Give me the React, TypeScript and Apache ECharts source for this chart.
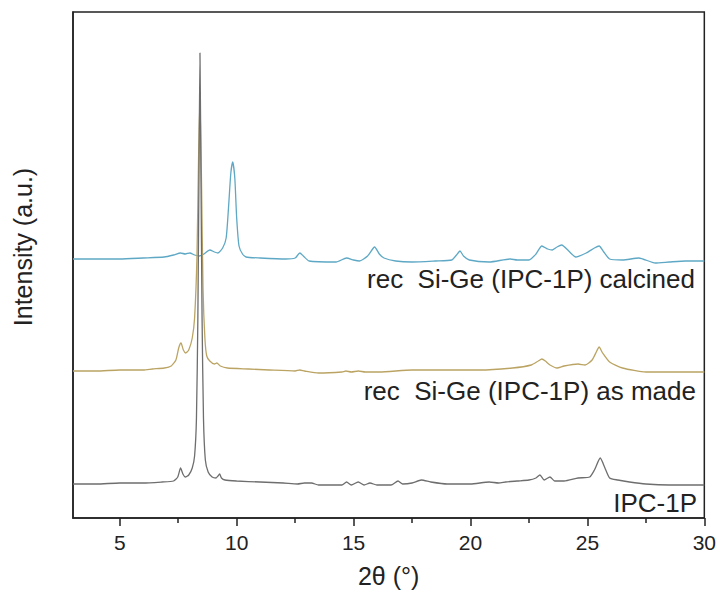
import React, { useEffect, useRef } from "react";
import * as echarts from "echarts";

const xTicks = [5, 10, 15, 20, 25, 30];
const xMinorTicks = [7.5, 12.5, 17.5, 22.5, 27.5];

const seriesNames = ["IPC-1P", "rec  Si-Ge (IPC-1P) as made", "rec  Si-Ge (IPC-1P) calcined"];

const ipc1p: [number, number][] = [
  [3, 34], [4, 34], [5, 35], [6, 35], [6.8, 36], [7.3, 37], [7.48, 41], [7.6, 50], [7.7, 44], [7.8, 41],
  [7.95, 43], [8.1, 50], [8.2, 62], [8.28, 100], [8.34, 200], [8.39, 350], [8.43, 465], [8.47, 350],
  [8.52, 200], [8.58, 100], [8.66, 58], [8.78, 46], [8.95, 41], [9.12, 40], [9.2, 42], [9.27, 44],
  [9.35, 40], [9.5, 38], [10, 37], [11, 36], [12, 35], [12.6, 34], [12.9, 35], [13.2, 35], [13.5, 33],
  [14, 33], [14.5, 33], [14.7, 36], [14.9, 33], [15.2, 36], [15.45, 33], [15.7, 35], [16, 33],
  [16.6, 33], [16.9, 37], [17.1, 34], [17.5, 35], [17.9, 38], [18.3, 36], [19, 34], [20, 34],
  [20.8, 36], [21.2, 35], [21.5, 36], [22, 37], [22.5, 38], [22.8, 40], [22.97, 43], [23.15, 38],
  [23.4, 41], [23.6, 37], [24, 37], [24.6, 40], [25.1, 41], [25.3, 48], [25.55, 60], [25.75, 50],
  [25.95, 40], [26.3, 38], [26.8, 36], [27.5, 34], [28.5, 33], [30, 33],
];

const asMade: [number, number][] = [
  [3, 147], [4, 147], [5, 148], [6, 148], [6.4, 149], [6.9, 150], [7.2, 152], [7.4, 158], [7.52, 170],
  [7.62, 175], [7.72, 168], [7.82, 165], [7.95, 168], [8.1, 180], [8.2, 200], [8.3, 260], [8.37, 360],
  [8.43, 420], [8.5, 330], [8.56, 230], [8.64, 180], [8.72, 162], [8.85, 157], [9.05, 154], [9.15, 155],
  [9.3, 152], [9.6, 150], [10.5, 149], [11.4, 148], [12.5, 147], [12.7, 148], [12.9, 147], [13.5, 145],
  [14.5, 146], [14.67, 147], [14.9, 146], [15.2, 147], [15.5, 146], [15.7, 146], [16.1, 146],
  [17.5, 148], [19, 148], [20.4, 148], [21.8, 150], [22.6, 153], [22.9, 157], [23.05, 159],
  [23.2, 157], [23.4, 153], [23.7, 150], [24, 152], [24.6, 154], [24.9, 153], [25.2, 158], [25.4, 167],
  [25.5, 171], [25.65, 165], [25.95, 156], [26.5, 150], [27.5, 146], [28.5, 146], [30, 146],
];

const calcined: [number, number][] = [
  [3, 259], [4, 259], [5, 259], [6, 260], [6.9, 261], [7.3, 263], [7.6, 265], [7.8, 264], [8.0, 265],
  [8.2, 263], [8.4, 262], [8.6, 264], [8.85, 268], [9.05, 266], [9.2, 265], [9.4, 270], [9.55, 280],
  [9.65, 310], [9.75, 345], [9.83, 356], [9.92, 340], [10.0, 300], [10.1, 272], [10.25, 264],
  [10.4, 261], [11, 260], [12.1, 259], [12.5, 260], [12.7, 265], [12.85, 262], [13.1, 257],
  [14.25, 256], [14.7, 260], [15.0, 258], [15.25, 257], [15.6, 262], [15.9, 271], [16.1, 264],
  [16.3, 260], [16.8, 257], [17.5, 256], [18.5, 257], [19.2, 258], [19.4, 263], [19.55, 267],
  [19.7, 262], [19.95, 258], [20.8, 256], [21.7, 259], [22, 258], [22.5, 258], [22.8, 264],
  [23.05, 272], [23.3, 269], [23.5, 268], [23.7, 271], [23.9, 273], [24.2, 267], [24.5, 261],
  [24.95, 265], [25.3, 270], [25.5, 272], [25.7, 266], [25.95, 259], [26.5, 258], [27.2, 260],
  [27.9, 255], [28.5, 256], [29.2, 257], [30, 257],
];

const colors = ["#6e6e6e", "#bba463", "#5ea8c5"];

export default function App() {
  const ref = useRef<HTMLDivElement>(null);
  useEffect(() => {
    if (!ref.current) return;
    const chart = echarts.init(ref.current, undefined, { renderer: "svg" });
    const font = "'Liberation Sans', Arial, sans-serif";
    const mkLine = (name: string, data: [number, number][], color: string) => ({
      type: "line",
      name,
      data,
      showSymbol: false,
      smooth: 0.2,
      lineStyle: { color, width: 1.3 },
      itemStyle: { color },
      z: 2,
    });
    chart.setOption({
      animation: false,
      backgroundColor: "#ffffff",
      grid: {
        left: 73,
        right: 14,
        top: 12,
        bottom: 85,
        show: true,
        borderColor: "#222",
        borderWidth: 1.5,
        backgroundColor: "transparent",
      },
      xAxis: [
        {
          type: "value",
          min: 3,
          max: 30,
          name: "2θ (°)",
          nameLocation: "middle",
          nameGap: 45,
          nameTextStyle: { fontFamily: font, fontSize: 25, color: "#222" },
          axisLine: { show: true, lineStyle: { color: "#222", width: 1.5 } },
          axisTick: { show: true, customValues: xTicks, length: 8, lineStyle: { color: "#222", width: 1.5 } },
          axisLabel: { customValues: xTicks, fontFamily: font, fontSize: 21, color: "#222", margin: 14 },
          splitLine: { show: false },
        },
        {
          type: "value",
          min: 3,
          max: 30,
          position: "bottom",
          axisLine: { show: false },
          axisTick: { show: true, customValues: xMinorTicks, length: 5, lineStyle: { color: "#222", width: 1.5 } },
          axisLabel: { show: false },
          splitLine: { show: false },
        },
      ],
      yAxis: {
        type: "value",
        min: 0,
        max: 506,
        axisLine: { show: true, lineStyle: { color: "#222", width: 1.5 } },
        axisTick: { show: false },
        axisLabel: { show: false },
        splitLine: { show: false },
      },
      series: [
        mkLine(seriesNames[2], calcined, colors[2]),
        mkLine(seriesNames[1], asMade, colors[1]),
        mkLine(seriesNames[0], ipc1p, colors[0]),
      ],
      graphic: [
        {
          type: "text",
          x: 23,
          y: 247,
          rotation: Math.PI / 2,
          style: { text: "Intensity (a.u.)", font: `25px ${font}`, fill: "#222", align: "center", verticalAlign: "middle" },
        },
        {
          type: "text",
          x: 695,
          y: 279,
          style: { text: seriesNames[2], font: `26px ${font}`, fill: "#222", align: "right", verticalAlign: "middle" },
        },
        {
          type: "text",
          x: 696,
          y: 391,
          style: { text: seriesNames[1], font: `26px ${font}`, fill: "#222", align: "right", verticalAlign: "middle" },
        },
        {
          type: "text",
          x: 697,
          y: 503,
          style: { text: seriesNames[0], font: `26px ${font}`, fill: "#222", align: "right", verticalAlign: "middle" },
        },
      ],
    });
    return () => chart.dispose();
  }, []);
  return <div ref={ref} style={{ width: 719, height: 603, position: "absolute", left: 0, top: 0 }} />;
}
